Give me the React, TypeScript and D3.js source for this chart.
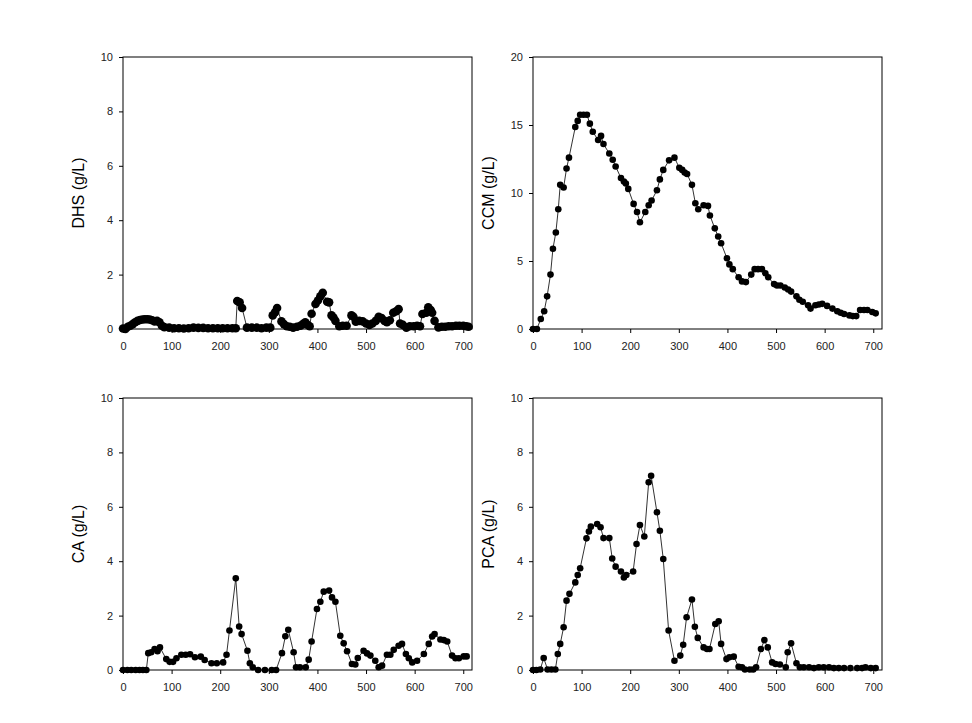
import React, { useEffect, useRef } from 'react';
import * as d3 from 'd3';

// [time, g/L]
const dhsData: [number, number][] = [
    [0, 0.02], [5, 0.0], [10, 0.08], [15, 0.12], [20, 0.18], [25, 0.25], [30, 0.3], [35, 0.33], [40, 0.35],
    [45, 0.36], [50, 0.36], [55, 0.35], [60, 0.32], [65, 0.28], [70, 0.3], [75, 0.25], [80, 0.12], [85, 0.07],
    [95, 0.05], [105, 0.03], [115, 0.03], [125, 0.02], [135, 0.03], [145, 0.05], [155, 0.04], [165, 0.04],
    [175, 0.03], [185, 0.03], [195, 0.03], [205, 0.03], [215, 0.03], [225, 0.03], [232, 0.03], [235, 1.03],
    [240, 0.98], [245, 0.77], [255, 0.05], [265, 0.05], [275, 0.05], [285, 0.03], [295, 0.05], [303, 0.05],
    [308, 0.5], [313, 0.62], [317, 0.77], [326, 0.28], [331, 0.18], [337, 0.1], [343, 0.08], [350, 0.05],
    [358, 0.08], [365, 0.12], [370, 0.18], [375, 0.25], [380, 0.15], [384, 0.1], [388, 0.56], [396, 0.92],
    [401, 1.05], [406, 1.2], [411, 1.33], [420, 1.0], [424, 0.98], [429, 0.5], [433, 0.42], [437, 0.3],
    [445, 0.1], [452, 0.12], [460, 0.12], [470, 0.5], [474, 0.45], [479, 0.27], [486, 0.3], [493, 0.28],
    [500, 0.2], [507, 0.15], [513, 0.2], [520, 0.3], [526, 0.45], [532, 0.4], [538, 0.3], [543, 0.25],
    [549, 0.32], [556, 0.6], [562, 0.65], [567, 0.73], [570, 0.2], [576, 0.15], [583, 0.05], [590, 0.1],
    [598, 0.1], [605, 0.12], [611, 0.1], [616, 0.55], [624, 0.6], [628, 0.8], [633, 0.7], [636, 0.6],
    [641, 0.3], [649, 0.06], [656, 0.08], [663, 0.08], [670, 0.1], [677, 0.1], [685, 0.12], [692, 0.12],
    [700, 0.12], [706, 0.1], [711, 0.08],
];

const ccmData: [number, number][] = [
    [0, 0], [8, 0], [16, 0.74], [23, 1.3], [29, 2.4], [36, 4.0], [41, 5.9], [47, 7.1], [52, 8.8], [56, 10.6],
    [63, 10.4], [69, 11.8], [74, 12.6], [87, 14.85], [92, 15.3], [97, 15.75], [104, 15.75], [111, 15.75],
    [117, 15.1], [123, 14.5], [134, 13.9], [140, 14.2], [145, 13.6], [157, 12.9], [164, 12.45], [170, 11.95],
    [181, 11.1], [187, 10.85], [191, 10.7], [196, 10.3], [207, 9.2], [214, 8.6], [220, 7.85], [231, 8.6],
    [238, 9.1], [244, 9.45], [255, 10.2], [261, 11.0], [268, 11.7], [280, 12.4], [291, 12.6], [301, 11.85],
    [307, 11.7], [312, 11.5], [317, 11.4], [327, 10.6], [334, 9.25], [340, 8.8], [351, 9.1], [360, 9.05],
    [364, 8.35], [374, 7.4], [381, 6.8], [387, 6.3], [399, 5.2], [404, 4.75], [411, 4.4], [423, 3.8],
    [430, 3.5], [438, 3.45], [449, 4.0], [456, 4.4], [463, 4.4], [471, 4.4], [478, 4.1], [484, 3.8],
    [496, 3.3], [502, 3.2], [509, 3.2], [518, 3.05], [525, 2.9], [531, 2.75], [542, 2.4], [548, 2.15],
    [555, 2.0], [566, 1.75], [571, 1.5], [581, 1.75], [588, 1.8], [595, 1.85], [605, 1.7], [616, 1.5],
    [626, 1.3], [633, 1.2], [640, 1.1], [651, 1.0], [658, 0.95], [665, 0.95], [673, 1.4], [681, 1.4],
    [688, 1.4], [698, 1.25], [705, 1.15],
];

const caData: [number, number][] = [
    [0, 0], [9, 0], [17, 0], [26, 0], [34, 0], [41, 0], [48, 0], [52, 0.62], [58, 0.65], [65, 0.77],
    [71, 0.69], [76, 0.83], [89, 0.4], [96, 0.3], [103, 0.3], [110, 0.43], [120, 0.56], [129, 0.56],
    [138, 0.58], [148, 0.47], [160, 0.49], [168, 0.37], [182, 0.25], [193, 0.25], [206, 0.28], [213, 0.56],
    [219, 1.45], [232, 3.37], [239, 1.6], [244, 1.32], [256, 0.71], [261, 0.25], [267, 0.1], [278, 0],
    [292, 0], [306, 0], [315, 0], [327, 0.62], [334, 1.24], [340, 1.48], [351, 0.65], [356, 0.1], [364, 0.1],
    [376, 0.1], [382, 0.38], [388, 1.05], [399, 2.24], [406, 2.51], [413, 2.88], [424, 2.92], [430, 2.67],
    [437, 2.51], [447, 1.26], [454, 0.98], [461, 0.69], [471, 0.22], [478, 0.2], [483, 0.44], [495, 0.71],
    [502, 0.61], [509, 0.53], [519, 0.34], [526, 0.1], [533, 0.16], [543, 0.56], [550, 0.56], [557, 0.74],
    [567, 0.89], [574, 0.96], [582, 0.59], [588, 0.43], [595, 0.28], [605, 0.34], [619, 0.59], [629, 0.96],
    [636, 1.23], [641, 1.32], [653, 1.12], [660, 1.1], [667, 1.05], [677, 0.53], [684, 0.43], [691, 0.43],
    [701, 0.5], [707, 0.5],
];

const pcaData: [number, number][] = [
    [0, 0], [7, 0], [15, 0.02], [22, 0.44], [30, 0.02], [38, 0.02], [46, 0.02], [51, 0.59], [56, 0.96],
    [63, 1.57], [69, 2.55], [75, 2.8], [87, 3.22], [92, 3.49], [97, 3.74], [110, 4.84], [115, 5.09],
    [119, 5.27], [132, 5.37], [139, 5.25], [145, 4.85], [157, 4.85], [163, 4.1], [170, 3.8], [181, 3.62],
    [187, 3.4], [192, 3.49], [206, 3.62], [213, 4.63], [220, 5.33], [229, 4.91], [238, 6.9], [243, 7.14],
    [255, 5.8], [261, 5.12], [268, 4.08], [279, 1.45], [291, 0.34], [303, 0.53], [309, 0.93], [316, 1.94],
    [327, 2.59], [333, 1.59], [339, 1.18], [351, 0.83], [358, 0.77], [363, 0.77], [375, 1.69], [382, 1.79],
    [387, 0.96], [398, 0.4], [404, 0.47], [413, 0.49], [423, 0.12], [430, 0.1], [436, 0.02], [446, 0.02],
    [453, 0.02], [459, 0.1], [469, 0.77], [476, 1.1], [483, 0.83], [492, 0.28], [499, 0.22], [508, 0.2],
    [520, 0.1], [524, 0.65], [531, 0.98], [542, 0.25], [549, 0.1], [557, 0.1], [568, 0.1], [578, 0.07],
    [588, 0.1], [598, 0.1], [609, 0.1], [619, 0.07], [629, 0.07], [640, 0.07], [653, 0.07], [667, 0.07],
    [677, 0.07], [684, 0.1], [695, 0.07], [705, 0.07],
];

const xTicks = [0, 100, 200, 300, 400, 500, 600, 700];
const yTicks10 = [0, 2, 4, 6, 8, 10];
const yTicks20 = [0, 5, 10, 15, 20];

const panels = [
    { label: 'DHS (g/L)', data: dhsData, yMax: 10, yTicks: yTicks10, x0: 123, y0: 57, r: 4.3 },
    { label: 'CCM (g/L)', data: ccmData, yMax: 20, yTicks: yTicks20, x0: 533, y0: 57, r: 3.3 },
    { label: 'CA (g/L)', data: caData, yMax: 10, yTicks: yTicks10, x0: 123, y0: 398, r: 3.3 },
    { label: 'PCA (g/L)', data: pcaData, yMax: 10, yTicks: yTicks10, x0: 533, y0: 398, r: 3.3 },
];

const plotW = 349;
const plotH = 272;
const font = '"Liberation Sans", Arial, sans-serif';

const App = () => {
    const svgRef = useRef<SVGSVGElement | null>(null);

    useEffect(() => {
        const svg = d3.select(svgRef.current);
        svg.selectAll('*').remove();

        panels.forEach(p => {
            const g = svg.append('g').attr('transform', `translate(${p.x0},${p.y0})`);

            const xScale = d3.scaleLinear().domain([0, 718]).range([0, plotW]);
            const yScale = d3.scaleLinear().domain([0, p.yMax]).range([plotH, 0]);

            const xAxis = g.append('g')
                .attr('transform', `translate(0,${plotH})`)
                .call(d3.axisBottom(xScale).tickValues(xTicks).tickSize(4).tickPadding(9));
            const yAxis = g.append('g')
                .call(d3.axisLeft(yScale).tickValues(p.yTicks).tickSize(4).tickPadding(6));

            [xAxis, yAxis].forEach(a => {
                a.select('.domain').remove();
                a.selectAll('line').attr('stroke', '#000');
                a.selectAll('text')
                    .attr('fill', '#222')
                    .style('font-family', font)
                    .style('font-size', '11px');
            });

            g.append('rect')
                .attr('width', plotW)
                .attr('height', plotH)
                .attr('fill', 'none')
                .attr('stroke', '#000')
                .attr('stroke-width', 1);

            const line = d3.line<[number, number]>()
                .x(d => xScale(d[0]))
                .y(d => yScale(d[1]));

            g.append('path')
                .datum(p.data)
                .attr('fill', 'none')
                .attr('stroke', '#333')
                .attr('stroke-width', 1)
                .attr('d', line);

            g.selectAll('.dot')
                .data(p.data)
                .enter()
                .append('circle')
                .attr('class', 'dot')
                .attr('cx', d => xScale(d[0]))
                .attr('cy', d => yScale(d[1]))
                .attr('r', p.r)
                .attr('fill', '#000');

            g.append('text')
                .attr('transform', `translate(-45,${plotH / 2}) rotate(-90)`)
                .attr('text-anchor', 'middle')
                .attr('dy', '0.35em')
                .style('font-family', font)
                .style('font-size', '16px')
                .attr('fill', '#000')
                .text(p.label);
        });
    }, []);

    return (
        <svg
            ref={svgRef}
            width={972}
            height={723}
            style={{ position: 'absolute', left: 0, top: 0, background: '#fff' }}
        />
    );
};

export default App;
